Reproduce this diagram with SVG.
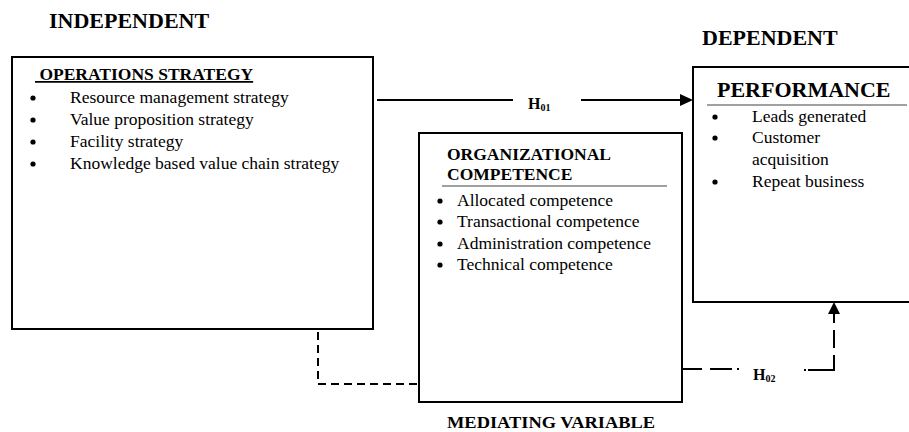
<svg xmlns="http://www.w3.org/2000/svg" width="909" height="432" viewBox="0 0 909 432">
  <style>
    .box{fill:#fff;stroke:#000;stroke-width:2}
    .t{font-family:"Liberation Serif","Times New Roman",serif;fill:#000}
    .b{font-weight:bold}
    .body{font-size:17.5px}
    .big{font-size:22px}
    .rule{stroke:#808080;stroke-width:1.5}
    .dot{fill:#000}
    .solid{fill:none;stroke:#000;stroke-width:2}
    .dash{fill:none;stroke:#000;stroke-width:2;stroke-dasharray:8 5}
    .head{fill:#000}
  </style>

  <!-- column headings -->
  <text class="t b big" x="49" y="28">INDEPENDENT</text>
  <text class="t b big" x="702" y="45">DEPENDENT</text>

  <!-- independent variable -->
  <g id="operations-strategy">
    <rect class="box" x="12" y="57" width="361" height="272"/>
    <text class="t b body" x="35" y="80" text-decoration="underline" style="white-space:pre"> OPERATIONS STRATEGY</text>
    <circle class="dot" cx="33" cy="98" r="2.6"/>
    <text class="t body" x="70" y="103">Resource management strategy</text>
    <circle class="dot" cx="33" cy="120" r="2.6"/>
    <text class="t body" x="70" y="125">Value proposition strategy</text>
    <circle class="dot" cx="33" cy="142" r="2.6"/>
    <text class="t body" x="70" y="147">Facility strategy</text>
    <circle class="dot" cx="33" cy="164" r="2.6"/>
    <text class="t body" x="70" y="169">Knowledge based value chain strategy</text>
  </g>

  <!-- mediating variable -->
  <g id="organizational-competence">
    <rect class="box" x="419" y="133" width="263" height="269"/>
    <text class="t b body" x="447" y="160">ORGANIZATIONAL</text>
    <text class="t b body" x="447" y="180">COMPETENCE</text>
    <line class="rule" x1="442" y1="186" x2="667" y2="186"/>
    <circle class="dot" cx="440" cy="201" r="2.6"/>
    <text class="t body" x="457" y="206">Allocated competence</text>
    <circle class="dot" cx="440" cy="222" r="2.6"/>
    <text class="t body" x="457" y="227">Transactional competence</text>
    <circle class="dot" cx="440" cy="244" r="2.6"/>
    <text class="t body" x="457" y="249">Administration competence</text>
    <circle class="dot" cx="440" cy="265" r="2.6"/>
    <text class="t body" x="457" y="270">Technical competence</text>
  </g>
  <text class="t b" x="447" y="428" font-size="16" textLength="208" lengthAdjust="spacingAndGlyphs">MEDIATING VARIABLE</text>

  <!-- dependent variable -->
  <g id="performance">
    <rect class="box" x="693" y="67" width="230" height="235"/>
    <text class="t b big" x="717" y="97">PERFORMANCE</text>
    <line class="rule" x1="707" y1="105" x2="907" y2="105"/>
    <circle class="dot" cx="715" cy="117" r="2.6"/>
    <text class="t body" x="752" y="122">Leads generated</text>
    <circle class="dot" cx="715" cy="138" r="2.6"/>
    <text class="t body" x="752" y="143">Customer</text>
    <text class="t body" x="752" y="165">acquisition</text>
    <circle class="dot" cx="715" cy="182" r="2.6"/>
    <text class="t body" x="752" y="187">Repeat business</text>
  </g>

  <!-- hypothesised paths -->
  <g id="connectors">
    <!-- H01: direct effect -->
    <line class="solid" x1="377" y1="100" x2="513" y2="100"/>
    <line class="solid" x1="581" y1="100" x2="682" y2="100"/>
    <polygon class="head" points="693,100 680,94 680,106"/>
    <text class="t b" x="528" y="109" font-size="16">H<tspan font-size="10" dy="2">01</tspan></text>

    <!-- H02: mediated path -->
    <polyline class="dash" points="318,332 318,384 419,384"/>
    <line fill="none" stroke="#000" stroke-width="2" stroke-dasharray="20 8 22 5 2 100" x1="682" y1="369" x2="740" y2="369"/>
    <polyline fill="none" stroke="#000" stroke-width="2" stroke-dasharray="2 2 41 7 18 7 10 10" points="804,370 834,370 834,313"/>
    <polygon class="head" points="834,302 828,314 840,314"/>
    <text class="t b" x="753" y="380" font-size="16">H<tspan font-size="10" dy="2">02</tspan></text>
  </g>
</svg>
